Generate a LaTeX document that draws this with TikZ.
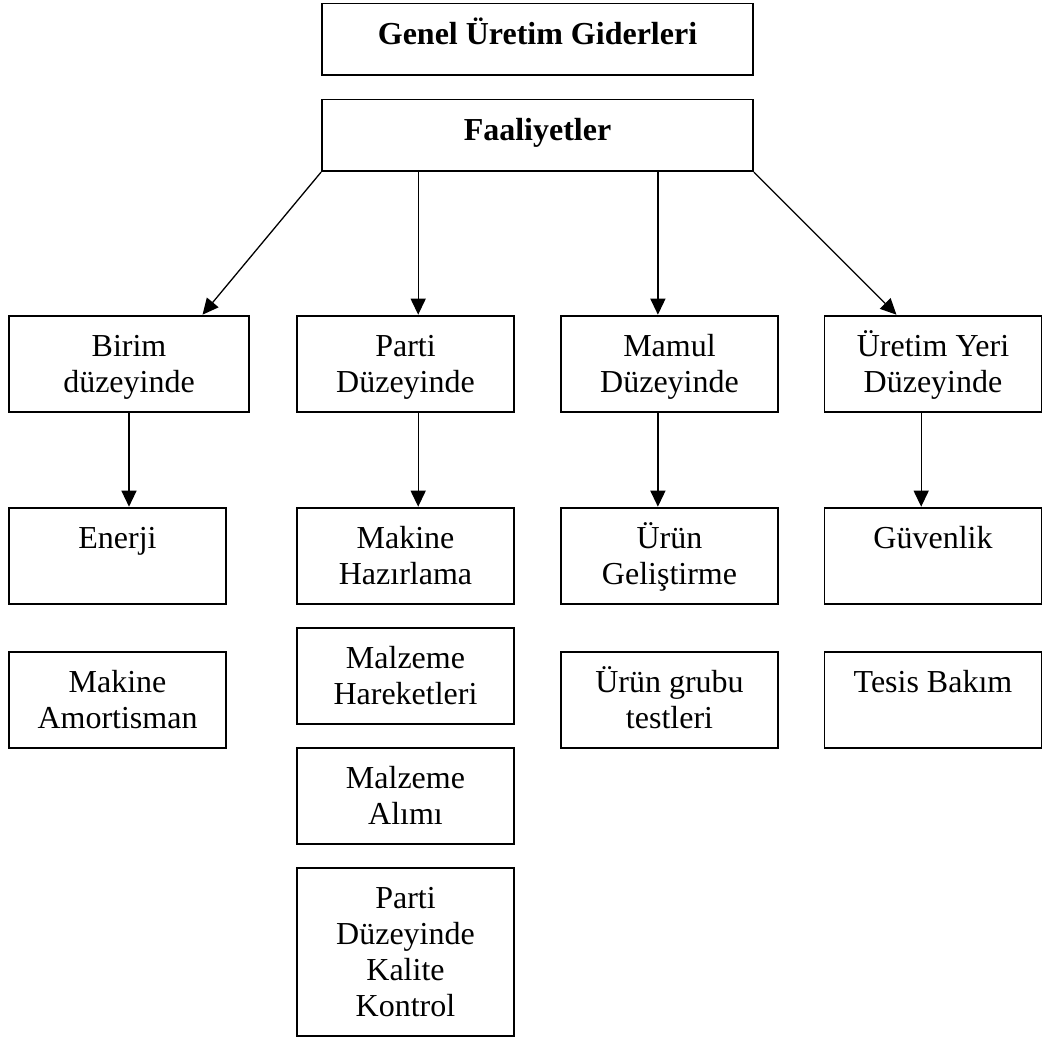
\documentclass[tikz,border=0pt]{standalone}
\usepackage{fontspec}
\setmainfont{Liberation Serif}
\usetikzlibrary{arrows.meta,calc}
% centred lines whose reference point is the first baseline
\newcommand\ml[1]{\begin{tabular}[t]{@{}c@{}}#1\end{tabular}}
\begin{document}
\begin{tikzpicture}[x=1pt,y=-1pt,
  box/.style={draw, line width=1.8pt, inner sep=0pt, anchor=north,
    text height=41pt, text depth=55pt, minimum width=217pt,
    font=\fontsize{32}{35.8}\selectfont},
  title/.style={box, text depth=30.6pt, minimum width=431pt,
    font=\fontsize{32}{35.8}\selectfont\bfseries},
  arr/.style={line width=1.3pt, -{Triangle[length=16pt,width=15pt]}}
]
\useasboundingbox (0,0) rectangle (1042,1038);

% header boxes
\node[title] (genel) at (537.5,2.7) {Genel Üretim Giderleri};
\node[title] (faal)  at (537.5,98.7) {Faaliyetler};

% activity levels
\node[box, minimum width=240pt] (birim)  at (129,314.7)   {\ml{Birim\\düzeyinde}};
\node[box] (parti)  at (405.5,314.7) {\ml{Parti\\Düzeyinde}};
\node[box] (mamul)  at (669.5,314.7) {\ml{Mamul\\Düzeyinde}};
\node[box] (uretim) at (933,314.7)   {\ml{Üretim Yeri\\Düzeyinde}};

% second row
\node[box] (enerji) at (117.5,506.7) {Enerji};
\node[box] (hazir)  at (405.5,506.7) {\ml{Makine\\Hazırlama}};
\node[box] (gelis)  at (669.5,506.7) {\ml{Ürün\\Geliştirme}};
\node[box] (guven)  at (933,506.7)   {Güvenlik};

% further cost items
\node[box] (amort)  at (117.5,650.7) {\ml{Makine\\Amortisman}};
\node[box] (harek)  at (405.5,626.7) {\ml{Malzeme\\Hareketleri}};
\node[box] (alim)   at (405.5,746.7) {\ml{Malzeme\\Alımı}};
\node[box, text depth=127.3pt] (kalite) at (405.5,866.7) {\ml{Parti\\Düzeyinde\\Kalite\\Kontrol}};
\node[box] (testl)  at (669.5,650.7) {\ml{Ürün grubu\\testleri}};
\node[box] (tesis)  at (933,650.7)   {Tesis Bakım};

% arrow anchor points on the level boxes
\coordinate (bA) at ($(birim.north west)!0.804!(birim.north east)$);
\coordinate (pA) at ($(parti.north west)!0.558!(parti.north east)$);
\coordinate (mA) at ($(mamul.north west)!0.447!(mamul.north east)$);
\coordinate (uA) at ($(uretim.north west)!0.333!(uretim.north east)$);
\coordinate (uB) at ($(uretim.north west)!0.446!(uretim.north east)$);

% arrows from activities to levels
\draw[arr] (faal.south west) -- (bA);
\draw[arr] (faal.south -| pA) -- (pA);
\draw[arr] (faal.south -| mA) -- (mA);
\draw[arr] (faal.south east) -- (uA);

% arrows from levels to items
\draw[arr] (birim.south) -- (birim.south |- enerji.north);
\draw[arr] (parti.south -| pA) -- (pA |- hazir.north);
\draw[arr] (mamul.south -| mA) -- (mA |- gelis.north);
\draw[arr] (uretim.south -| uB) -- (uB |- guven.north);
\end{tikzpicture}
\end{document}
